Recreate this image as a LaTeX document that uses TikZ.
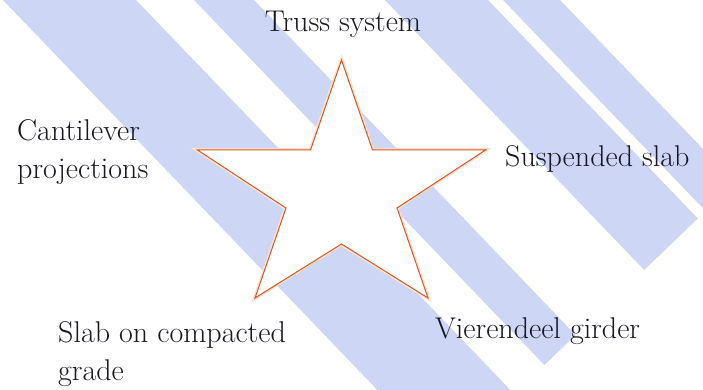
\documentclass[tikz,border=0pt]{standalone}
\usepackage{fontspec}
\newfontfamily\lblfont{Latin Modern Roman}
\definecolor{stripe}{RGB}{206,214,246}
\definecolor{starred}{RGB}{214,88,40}
\definecolor{glow}{RGB}{255,226,204}
\definecolor{ink}{RGB}{24,24,36}
\begin{document}
\begin{tikzpicture}[
x=1pt, y=-1pt,
band/.style={fill=stripe, draw=none},
starline/.style={draw=starred, line width=1pt, line join=miter, fill=white, preaction={draw=glow, line width=4pt}},
lbl/.style={font=\lblfont\fontsize{30}{38}\selectfont, text=ink, inner sep=0pt, align=left}
]
\useasboundingbox (0,0) rectangle (703,390);
\begin{scope}
\clip (0,0) rectangle (703,390);
\fill[band] (-16.2,-20) -- (116.8,-20) -- (529.6,410) -- (396.6,410) -- cycle;
\fill[band] (174.8,-20) -- (234.8,-20) -- (575.6,335) -- (544.4,365) -- cycle;
\fill[band] (365.8,-20) -- (468.8,-20) -- (697.8,218.5) -- (644.2,270) -- cycle;
\fill[band] (483.8,-20) -- (540.8,-20) -- (848,300) -- (791,300) -- cycle;
\end{scope}
\draw[starline] (341.5,60) -- (372.5,150) -- (485.5,150) -- (397,208) -- (428,298)
  -- (341.5,244) -- (255,298) -- (286,208) -- (197.5,150) -- (310.5,150) -- cycle;
\node[lbl, anchor=base] (truss) at (343,32) {Truss system};
\node[lbl, anchor=north west] (cantilever) at (17,119) {Cantilever\\projections};
\node[lbl, anchor=base west] (suspended) at (505,167) {Suspended slab};
\node[lbl, anchor=north west] (slab) at (58,321) {Slab on compacted\\grade};
\node[lbl, anchor=base west] (vierendeel) at (435,338) {Vierendeel girder};
\end{tikzpicture}
\end{document}
